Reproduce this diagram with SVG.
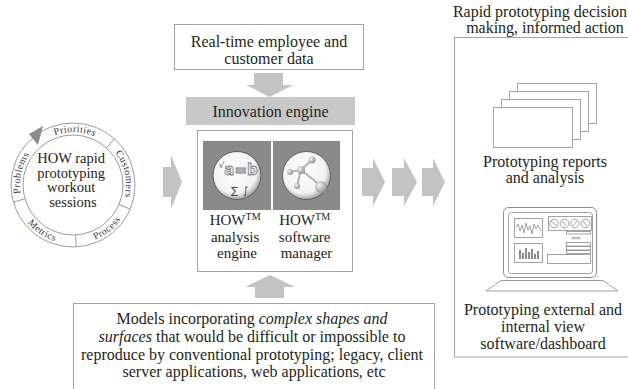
<svg xmlns="http://www.w3.org/2000/svg" width="628" height="389" viewBox="0 0 628 389">
  <style>
    .t { font-family: "Liberation Serif", "Times New Roman", serif; font-size: 16px; fill: #231f20; text-anchor: middle; }
    .ring { font-family: "Liberation Serif", "Times New Roman", serif; font-size: 10px; fill: #3a3a3a; letter-spacing: 0.4px; }
    .it { font-style: italic; }
    .box { fill: #ffffff; stroke: #a3a3a3; stroke-width: 1; }
    .arrow { fill: #c3c3c3; }
    .thin { fill: none; stroke: #8c8c8c; stroke-width: 0.8; }
    .sheet { fill: #ffffff; stroke: #a3a3a3; stroke-width: 1; }
  </style>
  <defs>
    <radialGradient id="lens" cx="45%" cy="42%" r="60%">
      <stop offset="0" stop-color="#ffffff"/>
      <stop offset="0.75" stop-color="#f2f2f2"/>
      <stop offset="1" stop-color="#9a9a9a"/>
    </radialGradient>
    <radialGradient id="ball" cx="35%" cy="35%" r="70%">
      <stop offset="0" stop-color="#f4f4f4"/>
      <stop offset="1" stop-color="#8d8d8d"/>
    </radialGradient>
    <!-- arcs that carry the ring labels -->
    <path id="arcPriorities" d="M28.06,156.91 A53,53 0 0 1 119.80,160.12"/>
    <path id="arcCustomers" d="M89.38,134.60 A53,53 0 0 1 108.46,224.39"/>
    <path id="arcProblems" d="M36.85,223.76 A53,53 0 0 1 57.50,134.32"/>
    <path id="arcProcess" d="M50.90,239.70 A59,59 0 0 0 131.43,176.79"/>
    <path id="arcMetrics" d="M14.14,180.88 A59,59 0 0 0 98.86,238.03"/>
  </defs>

  <rect width="628" height="389" fill="#ffffff"/>

  <!-- workout sessions cycle -->
  <g id="workout-cycle">
    <circle cx="73" cy="185" r="62" fill="#ffffff" stroke="#9c9c9c" stroke-width="1"/>
    <circle cx="73" cy="185" r="50" fill="#ffffff" stroke="#9c9c9c" stroke-width="1"/>
    <g stroke="#9c9c9c" stroke-width="1">
      <line x1="106.5" y1="147.8" x2="114.5" y2="138.9"/>
      <line x1="119.0" y1="204.5" x2="130.1" y2="209.2"/>
      <line x1="75.6" y1="234.9" x2="76.2" y2="246.9"/>
      <line x1="24.9" y1="198.8" x2="13.4" y2="202.1"/>
    </g>
    <polygon points="43,126 29,134 38,145" fill="#8c8c8c"/>
    <text class="ring"><textPath href="#arcPriorities" startOffset="50%" text-anchor="middle">Priorities</textPath></text>
    <text class="ring"><textPath href="#arcCustomers" startOffset="50%" text-anchor="middle">Customers</textPath></text>
    <text class="ring"><textPath href="#arcProblems" startOffset="50%" text-anchor="middle">Problems</textPath></text>
    <text class="ring"><textPath href="#arcProcess" startOffset="50%" text-anchor="middle">Process</textPath></text>
    <text class="ring"><textPath href="#arcMetrics" startOffset="50%" text-anchor="middle">Metrics</textPath></text>
    <text class="t" x="73" style="font-size:14.5px">
      <tspan x="73" y="163">HOW rapid</tspan>
      <tspan x="73" y="177.5">prototyping</tspan>
      <tspan x="73" y="192">workout</tspan>
      <tspan x="73" y="206.5">sessions</tspan>
    </text>
  </g>

  <!-- data source feeding the engine -->
  <g id="data-source">
    <rect class="box" x="174.5" y="24.5" width="189" height="45"/>
    <text class="t"><tspan x="269" y="47">Real-time employee and</tspan><tspan x="269" y="64">customer data</tspan></text>
  </g>

  <!-- innovation engine -->
  <g id="innovation-engine">
    <rect x="186" y="97" width="169" height="28" fill="#c8c8c8"/>
    <text class="t" x="270.5" y="117">Innovation engine</text>
    <rect class="box" x="197.5" y="130.5" width="155" height="141"/>

    <!-- analysis engine tile -->
    <rect x="203" y="141" width="68" height="69" fill="#8a8a8a"/>
    <circle cx="237" cy="175.5" r="24" fill="url(#lens)" stroke="#5e5e5e" stroke-width="1"/>
    <text x="241" y="175" font-family="'DejaVu Sans', sans-serif" font-size="15" font-weight="bold" fill="#e6e6e6" stroke="#7a7a7a" stroke-width="0.8" text-anchor="middle">a=b</text>
    <text x="219" y="168" font-family="'DejaVu Sans', sans-serif" font-size="8" fill="#555555">√</text>
    <text x="231" y="194" font-family="'DejaVu Sans', sans-serif" font-size="10" fill="#444444">∑</text>
    <text x="243" y="194" font-family="'DejaVu Sans', sans-serif" font-size="10" fill="#444444">∫</text>
    <text class="t" style="font-size:15px">
      <tspan x="237" y="225">HOW<tspan font-size="10" dy="-5">TM</tspan></tspan>
      <tspan x="237" y="241.5">analysis</tspan>
      <tspan x="237" y="258">engine</tspan>
    </text>

    <!-- software manager tile -->
    <rect x="273" y="141" width="67" height="69" fill="#8a8a8a"/>
    <circle cx="306.5" cy="175.5" r="24" fill="url(#lens)" stroke="#5e5e5e" stroke-width="1"/>
    <g stroke="#b5b5b5" stroke-width="2.2" stroke-linecap="round">
      <line x1="290" y1="172" x2="301" y2="170"/>
      <line x1="301" y1="170" x2="312" y2="160"/>
      <line x1="301" y1="170" x2="315" y2="181"/>
      <line x1="301" y1="170" x2="297" y2="186"/>
      <line x1="315" y1="181" x2="320" y2="186"/>
    </g>
    <circle cx="312" cy="160" r="3.5" fill="url(#ball)"/>
    <circle cx="290" cy="172" r="3" fill="url(#ball)"/>
    <circle cx="301" cy="170" r="4" fill="url(#ball)"/>
    <circle cx="297" cy="186" r="3" fill="url(#ball)"/>
    <circle cx="321" cy="187" r="6" fill="url(#ball)"/>
    <text class="t" style="font-size:15px">
      <tspan x="306.5" y="225">HOW<tspan font-size="10" dy="-5">TM</tspan></tspan>
      <tspan x="306.5" y="241.5">software</tspan>
      <tspan x="306.5" y="258">manager</tspan>
    </text>
  </g>

  <!-- models fed into the engine -->
  <g id="models">
    <rect class="box" x="73.5" y="303.5" width="361" height="100"/>
    <text class="t">
      <tspan x="254" y="324">Models incorporating <tspan class="it">complex shapes and</tspan></tspan>
      <tspan x="254" y="342"><tspan class="it">surfaces</tspan> that would be difficult or impossible to</tspan>
      <tspan x="254" y="360">reproduce by conventional prototyping; legacy, client</tspan>
      <tspan x="254" y="377">server applications, web applications, etc</tspan>
    </text>
  </g>

  <!-- decision making outputs -->
  <g id="decision-making">
    <text class="t"><tspan x="540" y="17">Rapid prototyping decision</tspan><tspan x="545" y="33">making, informed action</tspan></text>
    <rect class="box" x="454.5" y="37.5" width="200" height="319.5"/>
  </g>

  <g id="reports">
    <rect class="sheet" x="517.5" y="83.5" width="79" height="40"/>
    <rect class="sheet" x="509.5" y="91.5" width="79" height="40"/>
    <rect class="sheet" x="501.5" y="99.5" width="79" height="40"/>
    <rect class="sheet" x="493.5" y="107.5" width="79" height="40"/>
    <text class="t"><tspan x="545" y="167">Prototyping reports</tspan><tspan x="545" y="183">and analysis</tspan></text>
  </g>

  <g id="dashboard">
    <rect x="503.5" y="207.5" width="93" height="70" rx="5" fill="#ffffff" stroke="#8c8c8c" stroke-width="1"/>
    <rect x="508.5" y="212.5" width="84" height="61" rx="3" fill="#ffffff" stroke="#8c8c8c" stroke-width="0.8"/>
    <polygon points="501,280.5 603,280.5 618,291 486,291" fill="#ffffff" stroke="#9c9c9c" stroke-width="1"/>
    <!-- screen widgets -->
    <rect class="thin" x="514.5" y="218.5" width="28" height="19"/>
    <polyline class="thin" points="516,227 518,224 520,231 522,225 524,233 526,223 528,230 530,226 532,234 534,224 536,229 538,225 541,231"/>
    <rect class="thin" x="548.5" y="216.5" width="43" height="14"/>
    <circle class="thin" cx="554" cy="223.5" r="4.3"/>
    <circle class="thin" cx="564.5" cy="223.5" r="4.3"/>
    <circle class="thin" cx="575" cy="223.5" r="4.3"/>
    <circle class="thin" cx="585.5" cy="223.5" r="4.3"/>
    <line class="thin" x1="551" y1="221" x2="557" y2="226"/>
    <line class="thin" x1="562" y1="221" x2="566" y2="226"/>
    <line class="thin" x1="573" y1="226" x2="577" y2="221"/>
    <line class="thin" x1="583" y1="221" x2="587" y2="226"/>
    <rect class="thin" x="566.5" y="231.5" width="24" height="2.5"/>
    <circle class="thin" cx="573" cy="238" r="1"/>
    <circle class="thin" cx="576" cy="238" r="1"/>
    <circle class="thin" cx="579" cy="238" r="1"/>
    <rect class="thin" x="566.5" y="242.5" width="24" height="3.5"/>
    <rect class="thin" x="566.5" y="246.5" width="24" height="3.5"/>
    <rect class="thin" x="566.5" y="250.5" width="24" height="3"/>
    <rect class="thin" x="547.5" y="254.5" width="43" height="9"/>
    <rect class="thin" x="514.5" y="243.5" width="28" height="19"/>
    <g fill="#8c8c8c">
      <rect x="519" y="250" width="2" height="9"/>
      <rect x="522" y="253" width="2" height="6"/>
      <rect x="525" y="248" width="2" height="11"/>
      <rect x="528" y="252" width="2" height="7"/>
      <rect x="531" y="249" width="2" height="10"/>
      <rect x="534" y="254" width="2" height="5"/>
      <rect x="537" y="251" width="2" height="8"/>
    </g>
    <text class="t"><tspan x="543" y="315">Prototyping external and</tspan><tspan x="543" y="332">internal view</tspan><tspan x="543" y="349">software/dashboard</tspan></text>
  </g>

  <!-- connectors -->
  <g id="connectors">
    <polygon class="arrow" points="254,73 283,73 283,85 293,85 269.5,97 246,85 254,85"/>
    <polygon class="arrow" points="163,167 171,167 171,155 182,182 171,209 171,197 163,197"/>
    <polygon class="arrow" points="255,298 255,287 245,287 270,275 295,287 284,287 284,298"/>
    <polygon class="arrow" points="362,168 373,168 373,158 385,182 373,206 373,196 362,196"/>
    <polygon class="arrow" points="392,168 404,168 404,158 417,182 404,206 404,196 392,196"/>
    <polygon class="arrow" points="422,168 433,168 433,158 445,182 433,206 433,196 422,196"/>
  </g>
</svg>
